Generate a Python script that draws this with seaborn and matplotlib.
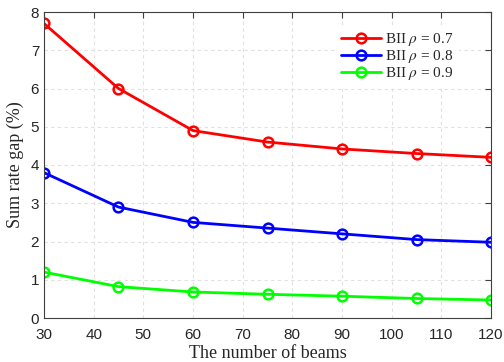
import matplotlib
matplotlib.use("Agg")
import matplotlib.pyplot as plt
import seaborn as sns
import pandas as pd

beams = [30, 45, 60, 75, 90, 105, 120]
gap_07 = [7.7, 6.0, 4.9, 4.6, 4.42, 4.3, 4.2]
gap_08 = [3.8, 2.9, 2.5, 2.35, 2.2, 2.05, 1.98]
gap_09 = [1.2, 0.82, 0.68, 0.62, 0.57, 0.51, 0.47]
labels = [r"BII $\rho$ = 0.7", r"BII $\rho$ = 0.8", r"BII $\rho$ = 0.9"]
colors = ["#ff0000", "#0000ff", "#00ff00"]

df = pd.concat([
    pd.DataFrame({"beams": beams, "gap": g, "series": l})
    for g, l in zip([gap_07, gap_08, gap_09], labels)
])

sns.set_theme(style="white")
plt.rcParams["mathtext.fontset"] = "stix"

fig = plt.figure(figsize=(5.04, 3.62), dpi=100)
ax = fig.add_axes([44/504, 1 - 318/362, 447/504, 306/362])

sns.lineplot(data=df, x="beams", y="gap", hue="series", palette=colors,
             marker="o", markersize=7, markerfacecolor="none", markeredgewidth=1.8,
             linewidth=2, ax=ax)
for line in ax.get_lines():
    line.set_markeredgecolor(line.get_color())

ax.set_xlim(30, 120)
ax.set_ylim(0, 8)
ax.set_xticks(range(30, 121, 10))
ax.set_yticks(range(0, 9))
ax.grid(True, linestyle=(0, (3, 3)), color="#e0e0e0", linewidth=0.8)
for s in ax.spines.values():
    s.set_color("#404040")
    s.set_linewidth(0.8)
ax.tick_params(direction="in", length=4, width=0.8, color="#404040",
               labelsize=11, top=True, right=True, labeltop=False, labelright=False,
               labelcolor="#262626")
ax.tick_params(axis="x", pad=7)
for t in ax.get_xticklabels() + ax.get_yticklabels():
    t.set_family("Liberation Sans")

ax.set_xlabel("The number of beams", family="Liberation Serif", fontsize=13, color="#262626", labelpad=2)
ax.set_ylabel("Sum rate gap (%)", family="Liberation Serif", fontsize=13, color="#262626", labelpad=5)

leg = ax.legend(title=None, loc="upper right", bbox_to_anchor=(0.944, 0.978),
                prop={"family": "Liberation Serif", "size": 11},
                frameon=True, fancybox=False, edgecolor="white", framealpha=1,
                handlelength=2.6, labelspacing=0.0, borderpad=0.3, handletextpad=0.3)
for h in leg.get_lines():
    h.set_markerfacecolor("none")
    h.set_markeredgecolor(h.get_color())
    h.set_linewidth(2)

fig.savefig("out.png", dpi=100)
